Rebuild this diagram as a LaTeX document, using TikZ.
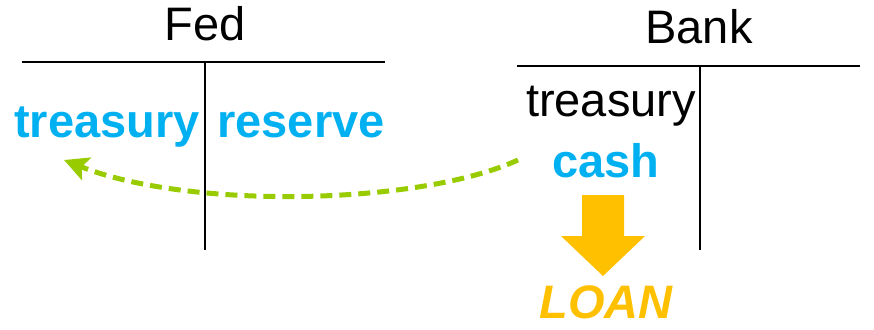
\documentclass[tikz,border=0pt]{standalone}
\usepackage{fontspec}
\setmainfont{Liberation Sans}
\usetikzlibrary{arrows.meta}
\definecolor{skyblue}{HTML}{00B0F0}
\definecolor{gold}{HTML}{FFC000}
\definecolor{lime}{HTML}{99CC00}
\begin{document}
\begin{tikzpicture}[x=1pt,y=-1pt,
  big/.style={font=\fontsize{47}{50}\selectfont, inner sep=0pt, anchor=base},
  blue/.style={big, text=skyblue, font=\fontsize{47}{50}\selectfont\bfseries},
  tline/.style={line width=1.5pt, black},
  flow/.style={lime, line width=5pt, dash pattern=on 12pt off 7pt, -{Stealth[length=24pt,width=24pt,inset=5pt]}}]
\useasboundingbox (0,0) rectangle (874,329);
% Fed T-account
\node[big] (fed) at (205,41) {Fed};
\coordinate (fedL) at (22,62);
\coordinate (fedR) at (385,62);
\coordinate (fedTop) at (205,62);
\coordinate (fedBot) at (205,250);
\draw[tline] (fedL) -- (fedR);
\draw[tline] (fedTop) -- (fedBot);
% Bank T-account
\node[big] (bank) at (699,44) {Bank};
\coordinate (bankL) at (517,66);
\coordinate (bankR) at (860,66);
\coordinate (bankTop) at (700,66);
\coordinate (bankBot) at (700,250);
\draw[tline] (bankL) -- (bankR);
\draw[tline] (bankTop) -- (bankBot);
% entries
\node[blue] (ftreas) at (107,137) {treasury};
\node[blue] (fres) at (301,137) {reserve};
\node[big] (btreas) at (611,116) {treasury};
\node[blue] (cash) at (606,177) {cash};
% green dashed arrow
\coordinate (start) at (518,160);
\coordinate (tip) at (64,160);
\draw[flow] (start) .. controls (420,205) and (190,210) .. (tip);
% yellow arrow
\fill[gold] (582,195) -- (624,195) -- (624,236) -- (645,236) -- (603,276) -- (561,236) -- (582,236) -- cycle;
\node[big, text=gold, font=\fontsize{47}{50}\selectfont\bfseries\itshape] (loan) at (606,318) {LOAN};
\end{tikzpicture}
\end{document}
